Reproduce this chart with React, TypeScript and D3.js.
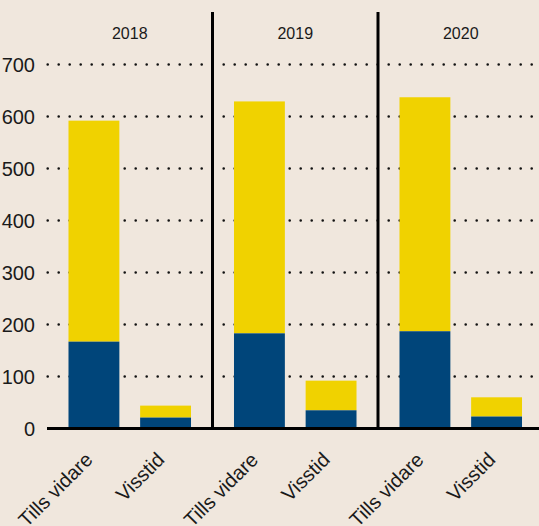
import React from "react";
import * as d3 from "d3";

const years = ["2018", "2019", "2020"];
const categories = ["Tills vidare", "Visstid"];
// blue (bottom) segment values per year, per category
const blueValues = [
  [167, 21],
  [183, 35],
  [187, 23],
];
// yellow (top) segment values per year, per category
const yellowValues = [
  [425, 23],
  [446, 57],
  [450, 37],
];
const yTicks = [0, 100, 200, 300, 400, 500, 600, 700];

const W = 539;
const H = 526;
const BG = "#F0E7DD";
const BLUE = "#00457A";
const YELLOW = "#F0D200";
const FONT = "'Liberation Sans', Arial, Helvetica, sans-serif";

export default function App() {
  const plotLeft = 47;
  const panelW = 165.5;
  const y = d3.scaleLinear().domain([0, 700]).range([428.5, 64.5]);
  const panelX = d3
    .scaleBand<string>()
    .domain(years)
    .range([plotLeft, plotLeft + panelW * years.length]);
  const inner = d3
    .scaleBand<string>()
    .domain(categories)
    .range([0, panelX.bandwidth()])
    .paddingInner(0.29)
    .paddingOuter(0.3);

  return (
    <svg
      width={W}
      height={H}
      style={{ position: "absolute", left: 0, top: 0, background: BG }}
    >
      <rect x={0} y={0} width={W} height={H} fill={BG} />
      {/* gridlines */}
      {yTicks
        .filter((t) => t > 0)
        .map((t) => (
          <line
            key={t}
            x1={plotLeft + 0.7}
            x2={W}
            y1={y(t)}
            y2={y(t)}
            stroke="#111"
            strokeWidth={2.6}
            strokeLinecap="round"
            strokeDasharray="0 11"
          />
        ))}
      {/* tick labels */}
      {yTicks.map((t) => (
        <text
          key={t}
          x={35}
          y={y(t)}
          dy="0.36em"
          textAnchor="end"
          fontFamily={FONT}
          fontSize={20}
          fill="#1a1a1a"
        >
          {t}
        </text>
      ))}
      {/* bars */}
      {years.map((yr, i) =>
        categories.map((c, j) => {
          const x0 = (panelX(yr) as number) + (inner(c) as number);
          const b = blueValues[i][j];
          const yv = yellowValues[i][j];
          return (
            <g key={yr + c}>
              <rect
                x={x0}
                width={inner.bandwidth()}
                y={y(b + yv)}
                height={y(b) - y(b + yv)}
                fill={YELLOW}
              />
              <rect
                x={x0}
                width={inner.bandwidth()}
                y={y(b)}
                height={y(0) - y(b)}
                fill={BLUE}
              />
            </g>
          );
        })
      )}
      {/* panel separators */}
      {years.slice(1).map((yr) => (
        <line
          key={yr}
          x1={panelX(yr) as number}
          x2={panelX(yr) as number}
          y1={12}
          y2={428.5}
          stroke="#000"
          strokeWidth={3}
        />
      ))}
      {/* baseline */}
      <line x1={plotLeft} x2={W} y1={y(0)} y2={y(0)} stroke="#000" strokeWidth={3} />
      {/* year labels */}
      {years.map((yr) => (
        <text
          key={yr}
          x={(panelX(yr) as number) + panelX.bandwidth() / 2}
          y={39}
          textAnchor="middle"
          fontFamily={FONT}
          fontSize={16}
          fill="#1a1a1a"
        >
          {yr}
        </text>
      ))}
      {/* category labels */}
      {years.map((yr) =>
        categories.map((c) => {
          const cx = (panelX(yr) as number) + (inner(c) as number) + inner.bandwidth() / 2;
          const cy = 461;
          return (
            <text
              key={yr + c}
              x={cx}
              y={cy}
              textAnchor="end"
              transform={`rotate(-45, ${cx}, ${cy})`}
              fontFamily={FONT}
              fontSize={20}
              fill="#1a1a1a"
            >
              {c}
            </text>
          );
        })
      )}
    </svg>
  );
}
